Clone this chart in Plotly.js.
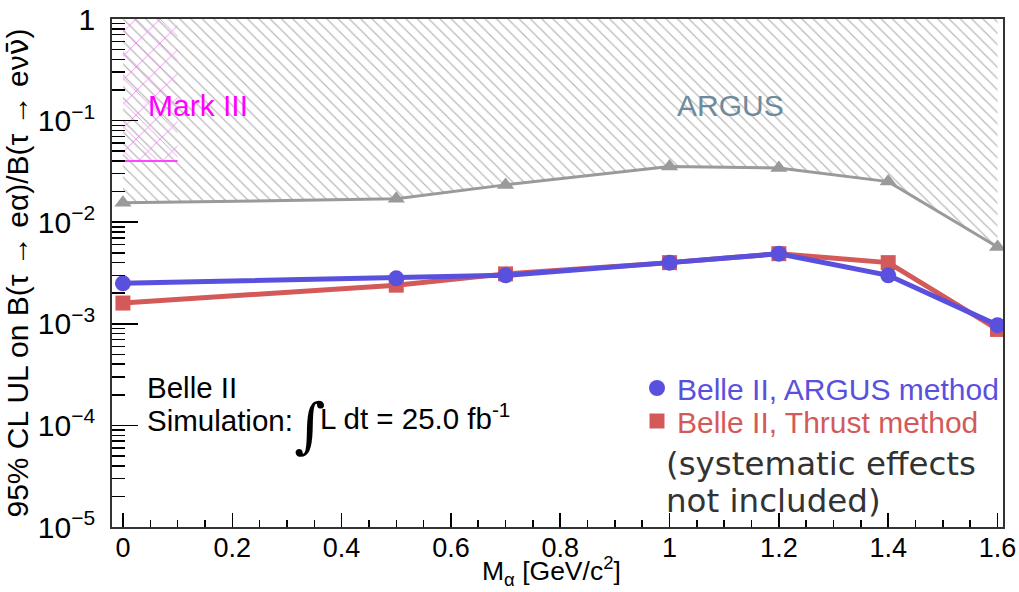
<!DOCTYPE html>
<html>
<head>
<meta charset="utf-8">
<script src="https://cdn.plot.ly/plotly-3.0.1.min.js"></script>
<style>html,body{margin:0;padding:0;background:#fff;}#chart{width:1019px;height:592px;}</style>
</head>
<body>
<div id="chart"></div>
<script>
// ---- data ----
const massX = [0, 0.5, 0.7, 1.0, 1.2, 1.4, 1.6];
const argusUL = [0.0155, 0.0170, 0.0233, 0.0353, 0.0341, 0.0251, 0.0057];
const belleArgusMethod = [0.0025, 0.0028, 0.0030, 0.0040, 0.0049, 0.0030, 0.00097];
const belleThrustMethod = [0.0016, 0.0024, 0.0031, 0.0040, 0.0049, 0.0040, 0.00088];
const markIIIX = [0, 0.1];
const markIIILimit = 0.04;
const yTop = 1;
const seriesNames = ["Belle II, ARGUS method", "Belle II, Thrust method"];

const BLUE = "#5a50de";
const RED = "#d45a5a";
const GRAY = "#9a9a9a";
const FONT = "Liberation Sans, Arial, sans-serif";

// ARGUS excluded region polygon (above the ARGUS limit up to top)
const argusPolyX = massX.concat(massX.slice().reverse());
const argusPolyY = argusUL.concat(massX.map(() => yTop));
// Mark III excluded box
const m3PolyX = [markIIIX[0], markIIIX[1], markIIIX[1], markIIIX[0]];
const m3PolyY = [markIIILimit, markIIILimit, yTop, yTop];

const traces = [
  {x: argusPolyX, y: argusPolyY, mode: "lines", fill: "toself", line: {width: 0},
   fillcolor: "rgba(0,0,0,0)",
   fillpattern: {shape: "\\", fgcolor: "#b8b8b8", bgcolor: "rgba(0,0,0,0)", size: 8, solidity: 0.15},
   showlegend: false, hoverinfo: "skip"},
  {x: m3PolyX, y: m3PolyY, mode: "lines", fill: "toself", line: {width: 0},
   fillcolor: "rgba(0,0,0,0)",
   fillpattern: {shape: "x", fgcolor: "#ee88ee", bgcolor: "rgba(0,0,0,0)", size: 17, solidity: 0.1},
   showlegend: false, hoverinfo: "skip"},
  {x: markIIIX, y: markIIIX.map(() => markIIILimit), mode: "lines",
   line: {color: "#ff44ff", width: 2}, showlegend: false},
  {x: massX, y: argusUL, mode: "lines+markers", line: {color: GRAY, width: 3},
   marker: {symbol: "triangle-up", size: 15, color: GRAY}, showlegend: false},
  // lines
  {x: massX, y: belleThrustMethod, mode: "lines", line: {color: RED, width: 5}, showlegend: false},
  {x: massX, y: belleArgusMethod, mode: "lines", line: {color: BLUE, width: 5}, showlegend: false},
  // markers (legend entries)
  {x: massX, y: belleThrustMethod, mode: "markers", legend: "legend2",
   name: '<span style="color:' + RED + '">' + seriesNames[1] + '</span>',
   marker: {symbol: "square", size: 15, color: RED}},
  {x: massX, y: belleArgusMethod, mode: "markers", legend: "legend",
   name: '<span style="color:' + BLUE + '">' + seriesNames[0] + '</span>',
   marker: {symbol: "circle", size: 16, color: BLUE}}
];

function px(xp) { return (xp - 112) / 891; }
function py(yp) { return (527 - yp) / 508; }

const legendBase = {xanchor: "left", yanchor: "middle", bgcolor: "rgba(0,0,0,0)",
                    font: {family: FONT, size: 30}, itemwidth: 30, borderwidth: 0};

const layout = {
  width: 1019, height: 592,
  margin: {l: 112, r: 16, t: 19, b: 65},
  paper_bgcolor: "#fff", plot_bgcolor: "#fff",
  font: {family: FONT, size: 29, color: "#000"},
  showlegend: true,
  legend: Object.assign({x: px(637), y: py(388)}, legendBase),
  legend2: Object.assign({x: px(637), y: py(421)}, legendBase),
  xaxis: {
    range: [-0.02, 1.61], showgrid: false, zeroline: false,
    showline: true, linecolor: "#333", linewidth: 2, mirror: true,
    ticks: "inside", ticklen: 14, tickwidth: 1.5, tickcolor: "#000",
    dtick: 0.2, tick0: 0, tickformat: "~g",
    minor: {ticks: "inside", ticklen: 7, tickwidth: 1.5, tickcolor: "#000", dtick: 0.05, showgrid: false},
    tickfont: {family: FONT, size: 27, color: "#000"},
    ticklabelstandoff: -4
  },
  yaxis: {
    type: "log", range: [-5, 0], showgrid: false, zeroline: false,
    showline: true, linecolor: "#333", linewidth: 2, mirror: true,
    ticks: "inside", ticklen: 26, tickwidth: 1.5, tickcolor: "#000",
    dtick: 1, exponentformat: "power",
    minor: {ticks: "inside", ticklen: 13, tickwidth: 1.5, tickcolor: "#000", dtick: "D1", showgrid: false},
    tickfont: {family: FONT, size: 24, color: "#000"},
    ticklabelstandoff: 10,
    title: {text: "95% CL UL on B(τ → eα)/B(τ → eν<span style=\"font-family:DejaVu Sans\">ν\u0304</span>)",
            font: {family: FONT, size: 30, color: "#000"}, standoff: 8}
  },
  annotations: [
    {xref: "paper", yref: "paper", x: px(551), y: 0, yshift: -65, xanchor: "center", yanchor: "bottom",
     text: "M<sub>α</sub> [GeV/c<sup>2</sup>]", showarrow: false, font: {family: FONT, size: 26.5, color: "#000"}},
    {xref: "paper", yref: "paper", x: px(146), y: py(105), xanchor: "left", yanchor: "middle",
     text: "Mark III", showarrow: false, font: {family: FONT, size: 30, color: "#ff00ff"}},
    {xref: "paper", yref: "paper", x: px(730), y: py(105), xanchor: "center", yanchor: "middle",
     text: "ARGUS", showarrow: false, font: {family: FONT, size: 30, color: "#6e8a9c"}},
    {xref: "paper", yref: "paper", x: px(145), y: py(387), xanchor: "left", yanchor: "middle",
     text: "Belle II", showarrow: false, font: {family: FONT, size: 29.5, color: "#000"}},
    {xref: "paper", yref: "paper", x: px(145), y: py(420), xanchor: "left", yanchor: "middle",
     text: "Simulation:", showarrow: false, font: {family: FONT, size: 29.5, color: "#000"}},
    {xref: "paper", yref: "paper", x: px(309), y: py(425), xanchor: "center", yanchor: "middle",
     text: "∫", showarrow: false, font: {family: "DejaVu Serif, serif", size: 60, color: "#000"}},
    {xref: "paper", yref: "paper", x: px(318), y: py(417), xanchor: "left", yanchor: "middle",
     text: "L dt = 25.0 fb<sup>-1</sup>", showarrow: false, font: {family: FONT, size: 29.5, color: "#000"}},
    {xref: "paper", yref: "paper", x: px(664), y: py(464), xanchor: "left", yanchor: "middle",
     text: "(systematic effects", showarrow: false, font: {family: "DejaVu Sans, sans-serif", size: 32.5, color: "#333"}},
    {xref: "paper", yref: "paper", x: px(664), y: py(501), xanchor: "left", yanchor: "middle",
     text: "not included)", showarrow: false, font: {family: "DejaVu Sans, sans-serif", size: 32.5, color: "#333"}}
  ]
};

Plotly.newPlot("chart", traces, layout, {displayModeBar: false, staticPlot: true});
</script>
</body>
</html>
